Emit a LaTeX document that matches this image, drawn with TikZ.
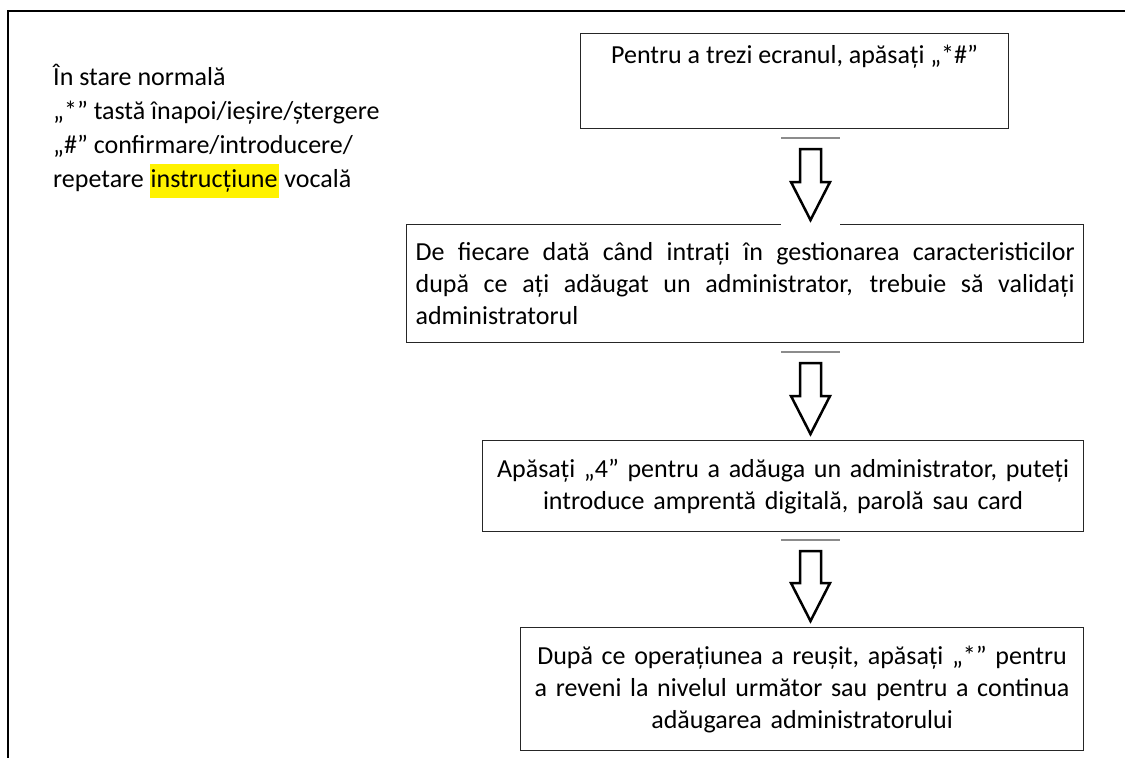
\documentclass[tikz,border=0pt]{standalone}
\usepackage{fontspec}
\setmainfont{Carlito}
\usepackage{xcolor}
\usetikzlibrary{positioning,calc}

\newcommand{\hollowarrow}[2]{%
  \fill[white] ($(#1)+(-29.5,-10)$) rectangle ($(#2)+(29.5,5)$);
  \draw[rule] ($(#1)+(-29.5,-11)$) -- ($(#1)+(29.5,-11)$);
  \draw[hollow] ($(#1)+(-10.5,0)$) -- ($(#1)+(10.5,0)$) -- ($(#2)+(10.5,-38)$)
    -- ($(#2)+(19.5,-38)$) -- (#2) -- ($(#2)+(-19.5,-38)$) -- ($(#2)+(-10.5,-38)$) -- cycle;}

\begin{document}
\begin{tikzpicture}[x=1pt,y=-1pt,line join=miter]
        \tikzstyle{stage}=[rectangle,draw=black!85,line width=1.2pt,inner xsep=12pt,anchor=north west,font=\fontsize{26}{32}\selectfont]
        \tikzstyle{hollow}=[draw=black,line width=2.5pt,fill=white]
        \tikzstyle{rule}=[draw=black!45,line width=1.5pt]
        \useasboundingbox (0,0) rectangle (1125,758);
        % page frame
        \draw[line width=1.2pt] (1125,11) -- (8,11) -- (8,758);
        % legend
        \node[anchor=north west,align=left,inner sep=0pt,font=\fontsize{26}{34}\selectfont] (legend) at (53,64)
            {În stare normală\\
             „*” tastă înapoi/ieșire/ștergere\\
             „\#” confirmare/introducere/\\
             repetare {\setlength{\fboxsep}{0pt}\colorbox{yellow}{\strut\hspace{1pt}instrucțiune\hspace{1pt}}} vocală};
        % steps
        \node[stage,minimum width=428pt,text height=27pt,text depth=62pt,inner ysep=3pt] (wake) at (580,33)
            {Pentru a trezi ecranul, apăsați „*\#”};
        \node[stage,text width=659pt,inner xsep=9pt,minimum height=118pt,align=justify] (check) at (406,224)
            {De fiecare dată când intrați în gestionarea caracteristicilor\linebreak
             după ce ați adăugat un administrator, trebuie să validați\linebreak
             administratorul};
        \node[stage,text width=577pt,minimum height=91pt,align=center] (add) at (482,440)
            {Apăsați „4” pentru a adăuga un administrator, puteți\\
             introduce amprentă digitală, parolă sau card};
        \node[stage,text width=539pt,minimum height=123pt,align=center] (done) at (520,627)
            {După ce operațiunea a reușit, apăsați „*” pentru\\
             a reveni la nivelul următor sau pentru a continua\\
             adăugarea administratorului};
        % arrows
        \coordinate (col) at (810.5,0);
        \coordinate (s1) at ($(col |- wake.south)+(0,20)$);
        \coordinate (t1) at ($(col |- check.north)+(0,-4)$);
        \coordinate (s2) at ($(col |- check.south)+(0,20)$);
        \coordinate (t2) at ($(col |- add.north)+(0,-6)$);
        \coordinate (s3) at ($(col |- add.south)+(0,19)$);
        \coordinate (t3) at ($(col |- done.north)+(0,-6)$);
        \hollowarrow{s1}{t1}
        \hollowarrow{s2}{t2}
        \hollowarrow{s3}{t3}
\end{tikzpicture}
\end{document}
